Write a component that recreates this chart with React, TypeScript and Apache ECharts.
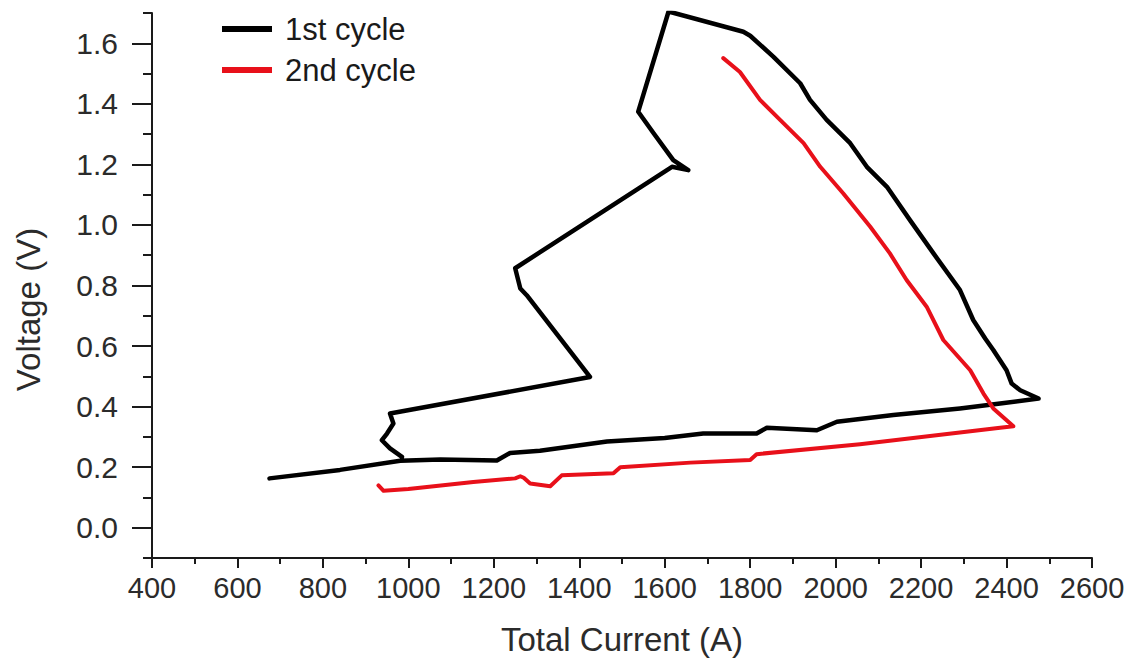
import React, { useEffect, useRef } from "react";
import * as echarts from "echarts";

// ---- data ----
const cycle1Current = [675, 840, 981, 1075, 1207, 1238, 1308, 1465, 1600, 1690, 1815, 1839, 1956, 2003, 2135, 2291, 2385, 2475, 2432, 2412, 2400, 2369, 2350, 2322, 2291, 2229, 2174, 2120, 2073, 2034, 1979, 1940, 1917, 1854, 1800, 1784, 1609, 1538, 1574, 1620, 1655, 1617, 1250, 1262, 1277, 1425, 957, 965, 950, 938, 957, 985];
const cycle1Voltage = [0.163, 0.191, 0.221, 0.225, 0.222, 0.247, 0.254, 0.285, 0.296, 0.311, 0.311, 0.33, 0.322, 0.35, 0.372, 0.394, 0.41, 0.427, 0.454, 0.476, 0.52, 0.587, 0.625, 0.686, 0.785, 0.906, 1.016, 1.126, 1.192, 1.27, 1.347, 1.413, 1.468, 1.556, 1.625, 1.638, 1.705, 1.374, 1.303, 1.214, 1.181, 1.192, 0.857, 0.79, 0.768, 0.498, 0.377, 0.344, 0.311, 0.289, 0.262, 0.234];

const cycle2Current = [930, 942, 1000, 1152, 1250, 1262, 1270, 1285, 1332, 1359, 1480, 1496, 1660, 1800, 1815, 2057, 2385, 2416, 2369, 2346, 2315, 2252, 2213, 2166, 2127, 2081, 2018, 1964, 1925, 1870, 1823, 1776, 1737];
const cycle2Voltage = [0.14, 0.122, 0.128, 0.151, 0.163, 0.17, 0.165, 0.146, 0.137, 0.173, 0.18, 0.2, 0.215, 0.224, 0.243, 0.276, 0.33, 0.335, 0.394, 0.443, 0.52, 0.62, 0.73, 0.818, 0.906, 0.994, 1.104, 1.192, 1.27, 1.347, 1.413, 1.505, 1.551];

const seriesNames = ["1st cycle", "2nd cycle"];
const xTickMin = 400;
const xTickMax = 2600;
const xTickStep = 200;
const yAxisMin = -0.1;
const yAxisMax = 1.7;
const yMajorMin = 0;
const yMajorMax = 1.6;
const yMajorStep = 0.2;
const yMinorStep = 0.1;

const FONT = "'Liberation Sans', Arial, sans-serif";
const AXIS_COLOR = "#1a1a1a";
const TEXT_COLOR = "#2b2b2b";

export default function App() {
  const ref = useRef<HTMLDivElement>(null);

  useEffect(() => {
    if (!ref.current) return;
    const chart = echarts.init(ref.current, undefined, { renderer: "svg" });

    const H = 662;
    const gLeft = 152;
    const gRight = 36;
    const gTop = 13;
    const gBottom = 104;
    const pxPerV = (H - gTop - gBottom) / (yAxisMax - yAxisMin);
    const g1Top = gTop + (yAxisMax - yMajorMax) * pxPerV;
    const g1Bottom = gBottom + (yMajorMin - yAxisMin) * pxPerV;

    const pairs = (xs: number[], ys: number[]) => xs.map((x, i) => [x, ys[i]]);

    chart.setOption({
      animation: false,
      backgroundColor: "#ffffff",
      grid: [
        { left: gLeft, right: gRight, top: gTop, bottom: gBottom },
        { left: gLeft, right: gRight, top: g1Top, bottom: g1Bottom },
      ],
      legend: {
        orient: "vertical",
        left: 222,
        top: 12,
        padding: 0,
        itemWidth: 50,
        itemHeight: 6,
        itemGap: 7,
        icon: "rect",
        data: seriesNames,
        textStyle: {
          fontFamily: FONT,
          fontSize: 31,
          color: "#1a1a1a",
          lineHeight: 34,
          padding: [0, 0, 0, 8],
        },
      },
      xAxis: [
        {
          type: "value",
          gridIndex: 0,
          min: xTickMin,
          max: xTickMax,
          interval: xTickStep,
          name: "Total Current (A)",
          nameLocation: "middle",
          nameGap: 65,
          nameTextStyle: { fontFamily: FONT, fontSize: 33, color: TEXT_COLOR },
          axisLine: { show: true, onZero: false, lineStyle: { color: AXIS_COLOR, width: 2 } },
          axisTick: { show: true, length: 10, lineStyle: { color: AXIS_COLOR, width: 2 } },
          minorTick: { show: true, splitNumber: 2, length: 6, lineStyle: { color: AXIS_COLOR, width: 2 } },
          axisLabel: {
            fontFamily: FONT,
            fontSize: 29,
            color: TEXT_COLOR,
            margin: 15,
            formatter: (v: number) => String(Math.round(v)),
          },
          splitLine: { show: false },
          minorSplitLine: { show: false },
        },
        { type: "value", gridIndex: 1, min: xTickMin, max: xTickMax, show: false },
      ],
      yAxis: [
        {
          type: "value",
          gridIndex: 0,
          position: "left",
          min: yAxisMin,
          max: yAxisMax,
          interval: yMinorStep,
          name: "Voltage (V)",
          nameLocation: "middle",
          nameGap: 107,
          nameTextStyle: {
            fontFamily: FONT,
            fontSize: 33,
            color: TEXT_COLOR,
            padding: [0, 48, 0, 0],
          },
          axisLine: { show: true, onZero: false, lineStyle: { color: AXIS_COLOR, width: 2 } },
          axisTick: { show: true, length: 9, lineStyle: { color: AXIS_COLOR, width: 2 } },
          axisLabel: {
            fontFamily: FONT,
            fontSize: 30,
            color: TEXT_COLOR,
            margin: 34,
            formatter: (v: number) => {
              const k = Math.round(v * 10);
              return k >= 0 && k % 2 === 0 && k <= 16 ? (k / 10).toFixed(1) : "";
            },
          },
          splitLine: { show: false },
        },
        {
          type: "value",
          gridIndex: 1,
          position: "left",
          min: yMajorMin,
          max: yMajorMax,
          interval: yMajorStep,
          axisLine: { show: false },
          axisTick: { show: true, length: 20, lineStyle: { color: AXIS_COLOR, width: 2 } },
          axisLabel: { show: false },
          splitLine: { show: false },
        },
      ],
      series: [
        {
          name: seriesNames[0],
          type: "line",
          xAxisIndex: 0,
          yAxisIndex: 0,
          data: pairs(cycle1Current, cycle1Voltage),
          showSymbol: false,
          symbol: "none",
          smooth: false,
          color: "#000000",
          lineStyle: { color: "#000000", width: 4.5, join: "round", cap: "round" },
        },
        {
          name: seriesNames[1],
          type: "line",
          xAxisIndex: 0,
          yAxisIndex: 0,
          data: pairs(cycle2Current, cycle2Voltage),
          showSymbol: false,
          symbol: "none",
          smooth: false,
          color: "#e8101a",
          lineStyle: { color: "#e8101a", width: 4, join: "round", cap: "round" },
        },
      ],
    });

    return () => chart.dispose();
  }, []);

  return (
    <div
      ref={ref}
      style={{ position: "absolute", left: 0, top: 0, width: 1128, height: 662, background: "#fff" }}
    />
  );
}
